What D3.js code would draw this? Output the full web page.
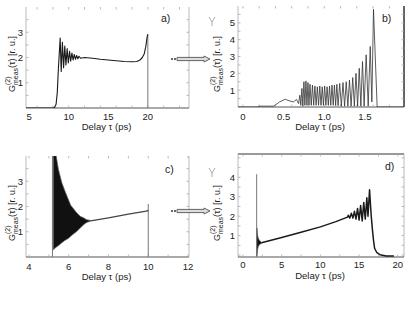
<!DOCTYPE html>
<html>
<head>
<meta charset="utf-8">
<script src="https://cdn.jsdelivr.net/npm/d3@7"></script>
<style>
  body { margin: 0; background: #fff; }
  text { font-family: "Liberation Sans", Arial, sans-serif; fill: #222; }
</style>
</head>
<body>
<div id="main"></div>
<script>
var width = 415, height = 312;

// ---- données ----
// a)
const ticksXA = [5, 10, 15, 20], ticksYA = [1, 2, 3];
const tauA = [4.6, 7.9, 8.2, 8.4, 8.55, 8.7, 8.85, 8.92,
  9.05, 9.2, 9.35, 9.5, 9.65, 9.8, 9.95, 10.1, 10.25, 10.4, 10.55, 10.7, 10.85, 11.0, 11.15, 11.3, 11.5,
  12, 13, 14, 15, 16, 17, 18, 18.6, 19.0, 19.3, 19.55, 19.75, 19.9, 19.98];
const gA = [0, 0, 0.02, 0.15, 0.6, 1.6, 2.4, 2.77,
  1.45, 2.6, 1.6, 2.45, 1.7, 2.35, 1.78, 2.25, 1.85, 2.18, 1.9, 2.12, 1.93, 2.08, 1.95, 2.05, 1.97,
  2.0, 1.97, 1.93, 1.9, 1.87, 1.84, 1.83, 1.84, 1.9, 2.0, 2.15, 2.45, 2.8, 2.92];
const vlinesA = [[20, 2.92]];

// b)
const ticksXB = [0, 0.5, 1.0, 1.5], ticksYB = [1, 2, 3, 4, 5];
const tauB = [-0.06, 0.18, 0.2, 0.38, 0.45, 0.52, 0.58, 0.62, 0.66, 0.685,
  0.70, 0.712, 0.725, 0.737, 0.75, 0.762, 0.775, 0.787, 0.80, 0.812, 0.825, 0.84,
  0.855, 0.87, 0.885, 0.90, 0.915, 0.93, 0.945, 0.96, 0.975, 0.99, 1.005, 1.02,
  1.035, 1.05, 1.065, 1.08, 1.095, 1.11, 1.125, 1.14, 1.155, 1.17, 1.19, 1.21,
  1.23, 1.25, 1.27, 1.29, 1.31, 1.33, 1.35, 1.37, 1.39, 1.41, 1.43, 1.45,
  1.47, 1.49, 1.515, 1.54, 1.565, 1.585, 1.605, 1.65, 1.7, 1.98];
const gB = [0, 0, 0.05, 0.05, 0.3, 0.46, 0.35, 0.3, 0.45, 0.2,
  0.7, 0.1, 1.1, 0.05, 1.5, 0.1, 1.55, 0.1, 1.45, 0.1, 1.35, 0.1,
  1.3, 0.1, 1.25, 0.1, 1.2, 0.1, 1.25, 0.1, 1.2, 0.1, 1.25, 0.1,
  1.2, 0.1, 1.25, 0.1, 1.3, 0.1, 1.3, 0.08, 1.35, 0.08, 1.4, 0.05,
  1.45, 0.05, 1.5, 0.05, 1.6, 0.05, 1.75, 0.05, 2.0, 0.05, 2.3, 0.05,
  2.7, 0.05, 3.1, 0.05, 3.6, 0.3, 5.8, 0.0, 0.0, 0.0];

// c)
const ticksXC = [4, 6, 8, 10, 12], ticksYC = [1, 2, 3];
const bandTauC = [5.22, 5.35, 5.48, 5.65, 5.8, 5.97, 6.1, 6.25, 6.4, 6.58, 6.75, 6.9, 7.1];
const bandHiC = [4.1, 4.1, 3.48, 2.95, 2.63, 2.3, 2.05, 1.9, 1.75, 1.61, 1.55, 1.48, 1.45];
const bandLoC = [0.28, 0.38, 0.45, 0.56, 0.65, 0.73, 0.82, 0.92, 1.01, 1.15, 1.28, 1.37, 1.42];
const tauC = [7.1, 8, 9, 9.9, 10];
const gC = [1.43, 1.55, 1.7, 1.82, 1.85];
const vlinesC = [[5.18, 4.1], [10, 2.1]];

// d)
const ticksXD = [0, 5, 10, 15, 20], ticksYD = [1, 2, 3, 4];
const bandTauD = [1.8, 1.9, 2.0, 2.1, 2.2, 2.4];
const bandHiD = [1.4, 1.0, 0.85, 0.78, 0.72, 0.66];
const bandLoD = [-0.05, 0.3, 0.45, 0.52, 0.56, 0.6];
const tauD = [2.4, 5, 7.5, 10, 12, 13.5,
  13.6, 13.8, 14.0, 14.2, 14.4, 14.6, 14.8, 15.0, 15.2, 15.4, 15.6, 15.8, 16.0, 16.15, 16.35,
  16.55, 16.7, 16.85, 17.0, 17.3, 17.7, 18.5, 19.5];
const gD = [0.63, 0.9, 1.17, 1.45, 1.72, 1.95,
  2.05, 1.9, 2.15, 1.9, 2.25, 1.85, 2.4, 1.8, 2.55, 1.75, 2.7, 1.85, 2.95, 2.0, 3.36,
  2.1, 1.4, 0.8, 0.35, 0.12, 0.02, -0.05, -0.05];
const vlinesD = [[1.77, 4.16]];

// ---- mise en page ----
const panels = [
  {lab: "a)", box: [26, 189, 7, 108], xd: [4.6, 25.2], yd: [0, 4], tx: ticksXA, ty: ticksYA, fmt: d3.format("d"),
   mx: 2, my: 0.5, tau: tauA, g: gA, vl: vlinesA, lw: 1.1, labPos: [161, 22], tickY: 120, titleY: 130, ylab: [15, 64]},
  {lab: "b)", box: [238, 404, 6, 107], xd: [-0.06, 1.98], yd: [0, 6], tx: ticksXB, ty: ticksYB, fmt: d => d === 0 ? "0" : d3.format(".1f")(d),
   mx: 0.2, my: 0.5, tau: tauB, g: gB, vl: [], lw: 0.8, stroke: "#333", labPos: [382, 22], tickY: 120, titleY: 130, ylab: [220, 64], rightDark: true},
  {lab: "c)", box: [26, 189, 156, 257], xd: [3.85, 12.05], yd: [0, 4], tx: ticksXC, ty: ticksYC, fmt: d3.format("d"),
   mx: 1, my: 0.5, tau: tauC, g: gC, vl: vlinesC, lw: 1.3, stroke: "#444", band: [bandTauC, bandHiC, bandLoC], labPos: [165, 173], tickY: 270, titleY: 280, ylab: [15, 213]},
  {lab: "d)", box: [238, 404, 154, 257], xd: [-0.64, 20.8], yd: [-0.1, 5.2], tx: ticksXD, ty: ticksYD, fmt: d3.format("d"),
   mx: 2.5, my: 0.5, tau: tauD, g: gD, vl: vlinesD, lw: 1.5, band: [bandTauD, bandHiD, bandLoD], labPos: [385, 170], tickY: 268, titleY: 279, ylab: [220, 213], topDark: true}
];

function main() {
  const svg = d3.select("#main").append("svg")
    .attr("width", width).attr("height", height)
    .attr("viewBox", [0, 0, width, height]);
  svg.append("rect").attr("width", width).attr("height", height).attr("fill", "#fff");

  panels.forEach((p, i) => drawPanel(svg, p, i));

  // flèches entre les panneaux
  arrow(svg, 171, 210, 59);
  arrow(svg, 171, 210, 211);

  // petites marques à gauche de b) et d)
  [20, 171].forEach(y0 => {
    svg.append("path")
      .attr("d", `M209,${y0 - 3}L212,${y0 + 2}L215,${y0 - 3}M212,${y0 + 2}V${y0 + 6}`)
      .attr("fill", "none").attr("stroke", "#888").attr("stroke-width", 0.7);
  });
}

function drawPanel(svg, p, i) {
  const [x0, x1, y0, y1] = p.box;
  const x = d3.scaleLinear().domain(p.xd).range([x0, x1]);
  const y = d3.scaleLinear().domain(p.yd).range([y1, y0]);
  const g = svg.append("g");

  g.append("clipPath").attr("id", "clip" + i)
    .append("rect").attr("x", x0).attr("y", y0).attr("width", x1 - x0).attr("height", y1 - y0);

  // cadre
  g.append("path").attr("d", `M${x0},${y0}V${y1}`).attr("stroke", "#bbb").attr("stroke-width", 1);
  g.append("path").attr("d", `M${x1},${y0}V${y1}`)
    .attr("stroke", p.rightDark ? "#333" : "#bbb").attr("stroke-width", p.rightDark ? 1.5 : 1);
  g.append("path").attr("d", `M${x0},${y1}H${x1}`).attr("stroke", "#555").attr("stroke-width", 1.1);
  if (p.topDark)
    g.append("path").attr("d", `M${x0},${y0}H${x1}`).attr("stroke", "#999").attr("stroke-width", 2);

  // petites graduations
  const mxs = d3.range(Math.ceil(p.xd[0] / p.mx) * p.mx, p.xd[1], p.mx);
  const mys = d3.range(Math.ceil(p.yd[0] / p.my) * p.my, p.yd[1], p.my);
  const ticks = g.append("g").attr("stroke", "#aaa").attr("stroke-width", 0.8);
  mxs.forEach(v => {
    ticks.append("path").attr("d", `M${x(v)},${y0}v2.5M${x(v)},${y1}v-2.5`);
  });
  mys.forEach(v => {
    ticks.append("path").attr("d", `M${x0},${y(v)}h2.5M${x1},${y(v)}h-2.5`);
  });

  // étiquettes des axes
  g.append("g").selectAll("text").data(p.tx).join("text")
    .attr("x", d => x(d)).attr("y", p.tickY)
    .attr("text-anchor", "middle").attr("font-size", 9.5)
    .text(p.fmt);
  g.append("g").selectAll("text").data(p.ty).join("text")
    .attr("x", x0 - 3).attr("y", d => y(d) + 3.5)
    .attr("text-anchor", "end").attr("font-size", 9.5)
    .text(d => d);
  g.append("text").attr("x", (x0 + x1) / 2 - 1).attr("y", p.titleY)
    .attr("text-anchor", "middle").attr("font-size", 9.5)
    .text("Delay τ (ps)");
  g.append("text").attr("x", p.labPos[0]).attr("y", p.labPos[1])
    .attr("font-size", 10.5).text(p.lab);
  yLabel(g, p.ylab[0], p.ylab[1]);

  // courbes
  const c = g.append("g").attr("clip-path", `url(#clip${i})`);
  p.vl.forEach(([t, top]) => {
    c.append("path").attr("d", `M${x(t)},${y(p.yd[0])}V${y(top)}`)
      .attr("stroke", "#777").attr("stroke-width", 1);
  });
  if (p.band) {
    const [bt, bh, bl] = p.band;
    const area = d3.area()
      .x((d, k) => x(bt[k])).y0((d, k) => y(bl[k])).y1((d, k) => y(bh[k]));
    c.append("path").datum(bt).attr("d", area)
      .attr("fill", "#111").attr("stroke", "#666").attr("stroke-width", 0.7);
  }
  const line = d3.line().x((d, k) => x(p.tau[k])).y((d, k) => y(p.g[k]));
  c.append("path").datum(p.tau).attr("d", line)
    .attr("fill", "none").attr("stroke", p.stroke || "#1a1a1a").attr("stroke-width", p.lw)
    .attr("stroke-linejoin", "round");
}

function yLabel(g, cx, cy) {
  const t = g.append("g").attr("transform", `translate(${cx},${cy}) rotate(-90)`);
  const txt = t.append("text").attr("font-size", 9).attr("text-anchor", "middle");
  txt.append("tspan").text("G");
  txt.append("tspan").attr("font-size", 7).attr("dy", 2.5).text("meas");
  txt.append("tspan").attr("dy", -2.5).text("(τ) [r. u.]");
  // exposant (2) au-dessus de « meas »
  const pos = txt.node().getStartPositionOfChar(1);
  t.append("text").attr("x", pos.x).attr("y", -5.5).attr("font-size", 7).text("(2)");
}

function arrow(svg, xa, xb, yc) {
  const a = svg.append("g");
  a.append("rect").attr("x", xa).attr("y", yc - 1).attr("width", 2).attr("height", 2).attr("fill", "#666");
  a.append("rect").attr("x", xa + 3).attr("y", yc - 1).attr("width", 2).attr("height", 2).attr("fill", "#666");
  a.append("path")
    .attr("d", `M${xa + 6},${yc - 1.6}H${xb - 6}V${yc - 3}L${xb},${yc}L${xb - 6},${yc + 3}V${yc + 1.6}H${xa + 6}Z`)
    .attr("fill", "#ddd").attr("stroke", "#555").attr("stroke-width", 0.9);
}

window.onload = main;
</script>
</body>
</html>
